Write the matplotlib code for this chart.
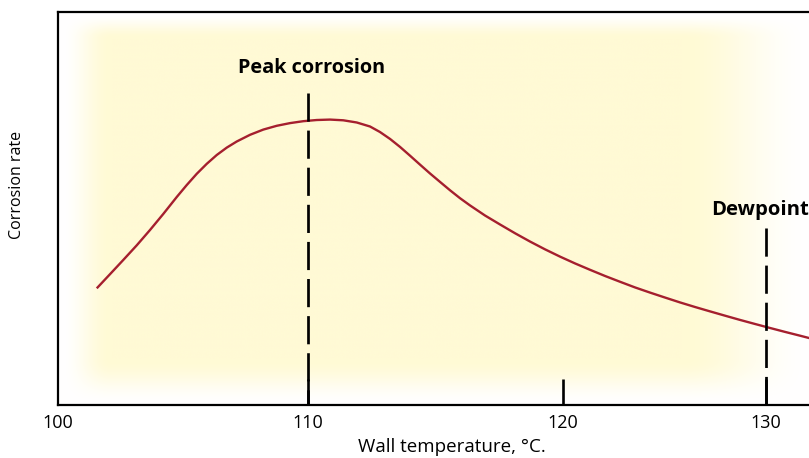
import numpy as np
import matplotlib
matplotlib.use("Agg")
import matplotlib.pyplot as plt
from matplotlib.scale import FuncScale

plt.rcParams["font.family"] = ["Open Sans", "DejaVu Sans"]

# Corrosion-rate curve (arbitrary units) against wall temperature, °C
wall_temp = [101.57, 102.10, 102.63, 103.17, 103.70, 104.23, 104.77, 105.17,
             105.57, 105.97, 106.37, 106.77, 107.17, 107.70, 108.23, 108.77,
             109.30, 109.83, 110.36, 110.88, 111.40, 111.93, 112.45, 112.84,
             113.24, 113.63, 114.02, 114.41, 114.80, 115.20, 115.59, 115.98,
             116.37, 116.96, 117.55, 118.14, 118.73, 119.31, 119.90, 120.61,
             121.35, 122.09, 122.83, 123.56, 124.30, 125.04, 125.77, 126.51,
             127.25, 127.99, 128.72, 129.46, 130.20, 130.93, 131.67, 132.26]
corrosion_rate = [2.960, 3.320, 3.682, 4.056, 4.446, 4.854, 5.287, 5.592,
                  5.878, 6.132, 6.357, 6.545, 6.701, 6.871, 7.004, 7.101,
                  7.169, 7.218, 7.248, 7.259, 7.241, 7.185, 7.083, 6.943,
                  6.764, 6.561, 6.339, 6.112, 5.888, 5.669, 5.457, 5.256,
                  5.073, 4.815, 4.586, 4.362, 4.150, 3.954, 3.768, 3.595,
                  3.432, 3.274, 3.126, 2.983, 2.851, 2.724, 2.601, 2.484,
                  2.372, 2.262, 2.155, 2.051, 1.949, 1.850, 1.753, 1.674]

peak_temp = 110
dewpoint_temp = 130
peak_line_top = 7.94
dew_line_top = 4.50

tick_values = [100, 110, 120, 130]
tick_labels = ["100", "110", "120", "130"]

# Uneven temperature axis of the schematic: tick -> axis position
axis_temps = np.array([100.0, 110.0, 120.0, 130.0])
axis_pos = np.array([0.0, 250.0, 505.0, 708.5])
_s0 = (axis_pos[1] - axis_pos[0]) / (axis_temps[1] - axis_temps[0])
_s1 = (axis_pos[-1] - axis_pos[-2]) / (axis_temps[-1] - axis_temps[-2])


def _fwd(t):
    t = np.asarray(t, dtype=float)
    out = np.interp(t, axis_temps, axis_pos)
    out = np.where(t < axis_temps[0], axis_pos[0] + (t - axis_temps[0]) * _s0, out)
    out = np.where(t > axis_temps[-1], axis_pos[-1] + (t - axis_temps[-1]) * _s1, out)
    return out


def _inv(p):
    p = np.asarray(p, dtype=float)
    out = np.interp(p, axis_pos, axis_temps)
    out = np.where(p < axis_pos[0], axis_temps[0] + (p - axis_pos[0]) / _s0, out)
    out = np.where(p > axis_pos[-1], axis_temps[-1] + (p - axis_pos[-1]) / _s1, out)
    return out


W, H = 809, 458
fig = plt.figure(figsize=(W / 100, H / 100), dpi=100)
ax_l, ax_r, ax_t, ax_b = 57.5, 809.0, 12.0, 404.5
ax = fig.add_axes([ax_l / W, 1 - ax_b / H, (ax_r - ax_l) / W, (ax_b - ax_t) / H])

ax.set_xscale(FuncScale(ax, (_fwd, _inv)))
ax.set_xlim(100, 132.11)
ax.set_ylim(0, 10)

# Soft yellow glow behind the plot
nx, ny = 760, 400
xs = np.linspace(ax_l, ax_r, nx)
ys = np.linspace(ax_t, ax_b, ny)
X, Y = np.meshgrid(xs, ys)


def smooth(v):
    v = np.clip(v, 0, 1)
    return v * v * (3 - 2 * v)


f = (smooth((X - 60) / 50) * smooth((812 - X) / 130)
     * smooth((Y - 13) / 25) * smooth((ax_b - Y) / 45))
yellow = np.array([255, 250, 213]) / 255.0
img = 1 - f[..., None] * (1 - yellow)
ax.imshow(img, extent=(0, 1, 0, 1), transform=ax.transAxes, aspect="auto",
          zorder=0, interpolation="bilinear")

ax.plot(wall_temp, corrosion_rate, color="#a51f2e", lw=1.7, zorder=3,
        solid_capstyle="butt", solid_joinstyle="round")

dash_kw = dict(color="black", lw=1.95, dashes=(10.4, 3.3), zorder=4,
               dash_capstyle="butt")
ax.plot([peak_temp, peak_temp], [peak_line_top, 0], **dash_kw)
ax.plot([dewpoint_temp, dewpoint_temp], [dew_line_top, 0], **dash_kw)

ax.text(110.15, 8.44, "Peak corrosion", ha="center", va="baseline",
        fontsize=14.3, fontweight="bold", zorder=5)
ax.text(127.32, 4.84, "Dewpoint", ha="left", va="baseline",
        fontsize=14.6, fontweight="bold", zorder=5, clip_on=False)

ax.set_xticks(tick_values)
ax.set_xticklabels(tick_labels)
ax.set_yticks([])
ax.tick_params(axis="x", direction="in", length=18.5, width=1.9,
               labelsize=13, pad=7, colors="black")
# the 100 tick sits on the left spine
ax.xaxis.get_major_ticks()[0].tick1line.set_visible(False)

for side in ("left", "bottom", "top"):
    ax.spines[side].set_linewidth(1.6)
ax.spines["right"].set_visible(False)

fig.text(451.5 / W, 1 - 447 / H, "Wall temperature, °C.", ha="center",
         va="center", fontsize=13.5)
fig.text(17.5 / W, 1 - 185 / H, "Corrosion rate", ha="center", va="center",
         rotation=90, fontsize=11.5)

fig.savefig("out.png", dpi=100)
